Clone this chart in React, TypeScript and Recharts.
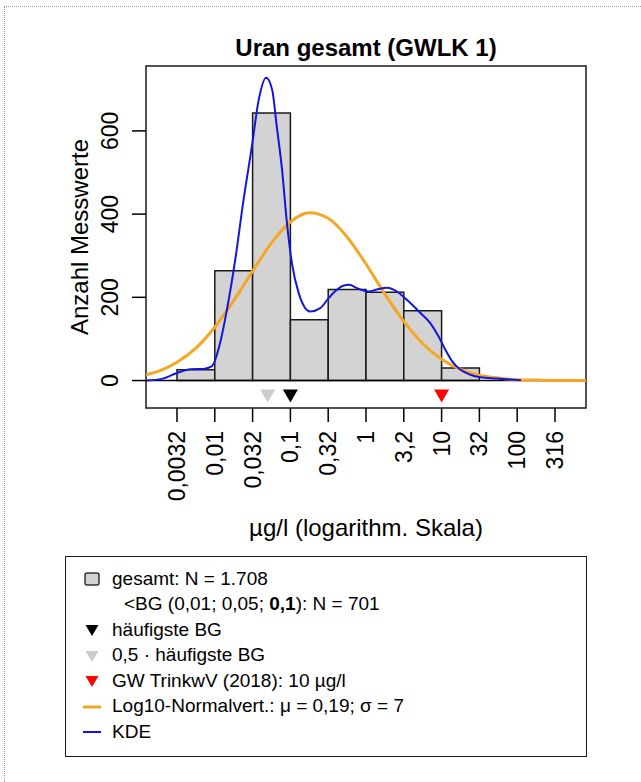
import React from "react"
import {
  ComposedChart,
  XAxis,
  YAxis,
  Line,
  Scatter,
  ReferenceArea,
  ReferenceLine,
  Label,
} from "recharts"

// histogram bins in log10(µg/l)
const binEdges = [-2.5, -2, -1.5, -1, -0.5, 0, 0.5, 1, 1.5]
const binCounts = [26, 264, 643, 146, 219, 212, 168, 30]

// log10-normal fit
const normalX = [-2.91, -2.75, -2.5, -2.25, -2, -1.75, -1.5, -1.25, -1, -0.75, -0.5, -0.25, 0, 0.25, 0.5, 0.75, 1, 1.25, 1.5, 1.75, 2, 2.25, 2.5, 2.91]
const normalY = [14, 22, 44, 78, 128, 192, 263, 331, 381, 403, 390, 345, 280, 208, 142, 89, 51, 27, 13, 6, 2, 1, 0, 0]

// kernel density estimate
const kdeX = [-2.9, -2.7, -2.5, -2.32, -2.15, -2.04, -1.93, -1.84, -1.73, -1.62, -1.51, -1.42, -1.32, -1.24, -1.18, -1.11, -1.05, -0.98, -0.89, -0.74, -0.605, -0.495, -0.4, -0.3, -0.22, -0.12, 0.035, 0.146, 0.28, 0.41, 0.54, 0.7, 0.85, 0.96, 1.05, 1.14, 1.25, 1.38, 1.51, 1.73, 1.95, 2.05]
const kdeY = [0, 4, 18, 27, 28, 34, 90, 170, 290, 434, 562, 674, 728, 698, 610, 506, 386, 282, 210, 166, 174, 198, 216, 228, 230, 222, 214, 219, 223, 214, 194, 166, 138, 106, 74, 46, 26, 14, 8, 5, 2, 1]

// markers below the histogram (µg/l)
const markerValues = [0.05, 0.1, 10]
const markerColors = ["#cccccc", "#000000", "#ff0000"]

const tickLogs = [-2.5, -2, -1.5, -1, -0.5, 0, 0.5, 1, 1.5, 2, 2.5]
const tickLabels = ["0,0032", "0,01", "0,032", "0,1", "0,32", "1", "3,2", "10", "32", "100", "316"]
const yTicks = [0, 200, 400, 600]

const X_DOMAIN = [-2.91, 2.91]
const Y_DOMAIN = [-66, 756]
const MARKER_Y = -37

const ORANGE = "#f5a623"
const BLUE = "#1414e0"
const FONT = "'Liberation Sans', Arial, Helvetica, sans-serif"

const normalData = normalX.map((x, i) => ({ x, y: normalY[i] }))
const kdeData = kdeX.map((x, i) => ({ x, y: kdeY[i] }))
const markerData = markerValues.map((v, i) => ({ x: Math.log10(v), y: MARKER_Y, color: markerColors[i] }))

const XTick = (props: any) => {
  const { x, y, payload } = props
  const i = tickLogs.indexOf(payload.value)
  return (
    <text x={x} y={y} transform={`rotate(-90 ${x} ${y})`} textAnchor="end" dy="0.35em" fontSize={23} fill="#000">
      {tickLabels[i]}
    </text>
  )
}

const YTick = (props: any) => {
  const { x, y, payload } = props
  const tx = x - 10
  return (
    <text x={tx} y={y} transform={`rotate(-90 ${tx} ${y})`} textAnchor="middle" fontSize={23} fill="#000">
      {payload.value}
    </text>
  )
}

const YTitle = (props: any) => {
  const vb = props.viewBox || { x: 66, y: 66, width: 80, height: 342 }
  const tx = vb.x + 22
  const ty = vb.y + vb.height / 2
  return (
    <text x={tx} y={ty} transform={`rotate(-90 ${tx} ${ty})`} textAnchor="middle" fontSize={24} fill="#000">
      Anzahl Messwerte
    </text>
  )
}

const XTitle = (props: any) => {
  const vb = props.viewBox || { x: 146, y: 408, width: 440, height: 140 }
  return (
    <text x={vb.x + vb.width / 2} y={vb.y + 128} textAnchor="middle" fontSize={24} fill="#000">
      µg/l (logarithm. Skala)
    </text>
  )
}

const DownTriangle = (props: any) => {
  const { cx, cy, payload } = props
  return <path d={`M${cx - 7.5},${cy - 6.5}L${cx + 7.5},${cy - 6.5}L${cx},${cy + 6.5}Z`} fill={payload.color} />
}

const legendIcon = (kind: string, color: string) => {
  if (kind === "box")
    return <rect x={3} y={4} width={14} height={12} rx={2} fill="#d3d3d3" stroke="#333" strokeWidth={1.5} />
  if (kind === "tri") return <path d="M3.5,5L16.5,5L10,16Z" fill={color} />
  if (kind === "line") return <line x1={1} x2={19} y1={10} y2={10} stroke={color} strokeWidth={color === ORANGE ? 3 : 2} />
  return null
}

const legendRows: { kind: string; color: string; text: React.ReactNode; indent?: number }[] = [
  { kind: "box", color: "", text: "gesamt: N = 1.708" },
  { kind: "", color: "", text: <>&lt;BG (0,01; 0,05; <b>0,1</b>): N = 701</>, indent: 12 },
  { kind: "tri", color: "#000000", text: "häufigste BG" },
  { kind: "tri", color: "#cccccc", text: "0,5 · häufigste BG" },
  { kind: "tri", color: "#ff0000", text: "GW TrinkwV (2018): 10 µg/l" },
  { kind: "line", color: ORANGE, text: "Log10-Normalvert.: μ = 0,19; σ = 7" },
  { kind: "line", color: BLUE, text: "KDE" },
]

export default function App() {
  return (
    <div
      style={{
        position: "absolute",
        left: 0,
        top: 0,
        width: 641,
        height: 782,
        overflow: "hidden",
        fontFamily: FONT,
        background: "#fff",
      }}
    >
      <div
        style={{
          position: "absolute",
          left: 4,
          top: 6,
          width: 637,
          height: 776,
          boxSizing: "border-box",
          borderLeft: "1px dotted #9a9a9a",
          borderTop: "1px dotted #9a9a9a",
        }}
      />
      <div
        style={{
          position: "absolute",
          left: 146,
          top: 36,
          width: 440,
          textAlign: "center",
          fontSize: 24,
          lineHeight: "24px",
          fontWeight: "bold",
        }}
      >
        Uran gesamt (GWLK 1)
      </div>

      <div style={{ position: "absolute", left: 0, top: 0 }}>
        <ComposedChart width={641} height={560} margin={{ top: 66, right: 55, left: 66, bottom: 12 }}>
          <XAxis
            type="number"
            dataKey="x"
            domain={X_DOMAIN}
            allowDataOverflow
            ticks={tickLogs}
            interval={0}
            tick={<XTick />}
            tickSize={14}
            tickMargin={9}
            tickLine={{ stroke: "#000", strokeWidth: 1.5 }}
            axisLine={false}
            height={140}
          >
            <Label content={<XTitle />} />
          </XAxis>
          <YAxis
            type="number"
            dataKey="y"
            domain={Y_DOMAIN}
            allowDataOverflow
            ticks={yTicks}
            interval={0}
            tick={<YTick />}
            tickSize={14}
            tickMargin={4}
            tickLine={{ stroke: "#000", strokeWidth: 1.5 }}
            axisLine={false}
            width={80}
          >
            <Label content={<YTitle />} />
          </YAxis>

          {binCounts.map((c, i) => (
            <ReferenceArea
              key={`bin-${i}`}
              x1={binEdges[i]}
              x2={binEdges[i + 1]}
              y1={0}
              y2={c}
              fill="#d3d3d3"
              fillOpacity={1}
              stroke="#1a1a1a"
              strokeWidth={1.5}
              ifOverflow="visible"
            />
          ))}
          <ReferenceLine y={0} stroke="#000" strokeWidth={1.5} ifOverflow="visible" />
          <ReferenceArea
            x1={X_DOMAIN[0]}
            x2={X_DOMAIN[1]}
            y1={Y_DOMAIN[0]}
            y2={Y_DOMAIN[1]}
            fill="none"
            stroke="#1a1a1a"
            strokeWidth={1.5}
            ifOverflow="visible"
          />

          <Line
            data={normalData}
            dataKey="y"
            type="monotone"
            stroke={ORANGE}
            strokeWidth={3}
            dot={false}
            activeDot={false}
            isAnimationActive={false}
          />
          <Line
            data={kdeData}
            dataKey="y"
            type="monotone"
            stroke={BLUE}
            strokeWidth={2}
            dot={false}
            activeDot={false}
            isAnimationActive={false}
          />
          <Scatter data={markerData} dataKey="y" shape={<DownTriangle />} isAnimationActive={false} />
        </ComposedChart>
      </div>

      <div
        style={{
          position: "absolute",
          left: 65,
          top: 556,
          width: 522,
          height: 201,
          boxSizing: "border-box",
          border: "1.5px solid #1a1a1a",
          paddingTop: 9,
          fontSize: 19,
        }}
      >
        {legendRows.map((r, i) => (
          <div key={i} style={{ height: 25.5, display: "flex", alignItems: "center", position: "relative" }}>
            <svg width={20} height={20} style={{ position: "absolute", left: 16, top: 3 }}>
              {legendIcon(r.kind, r.color)}
            </svg>
            <span style={{ position: "absolute", left: 46 + (r.indent || 0), whiteSpace: "nowrap" }}>{r.text}</span>
          </div>
        ))}
      </div>
    </div>
  )
}
